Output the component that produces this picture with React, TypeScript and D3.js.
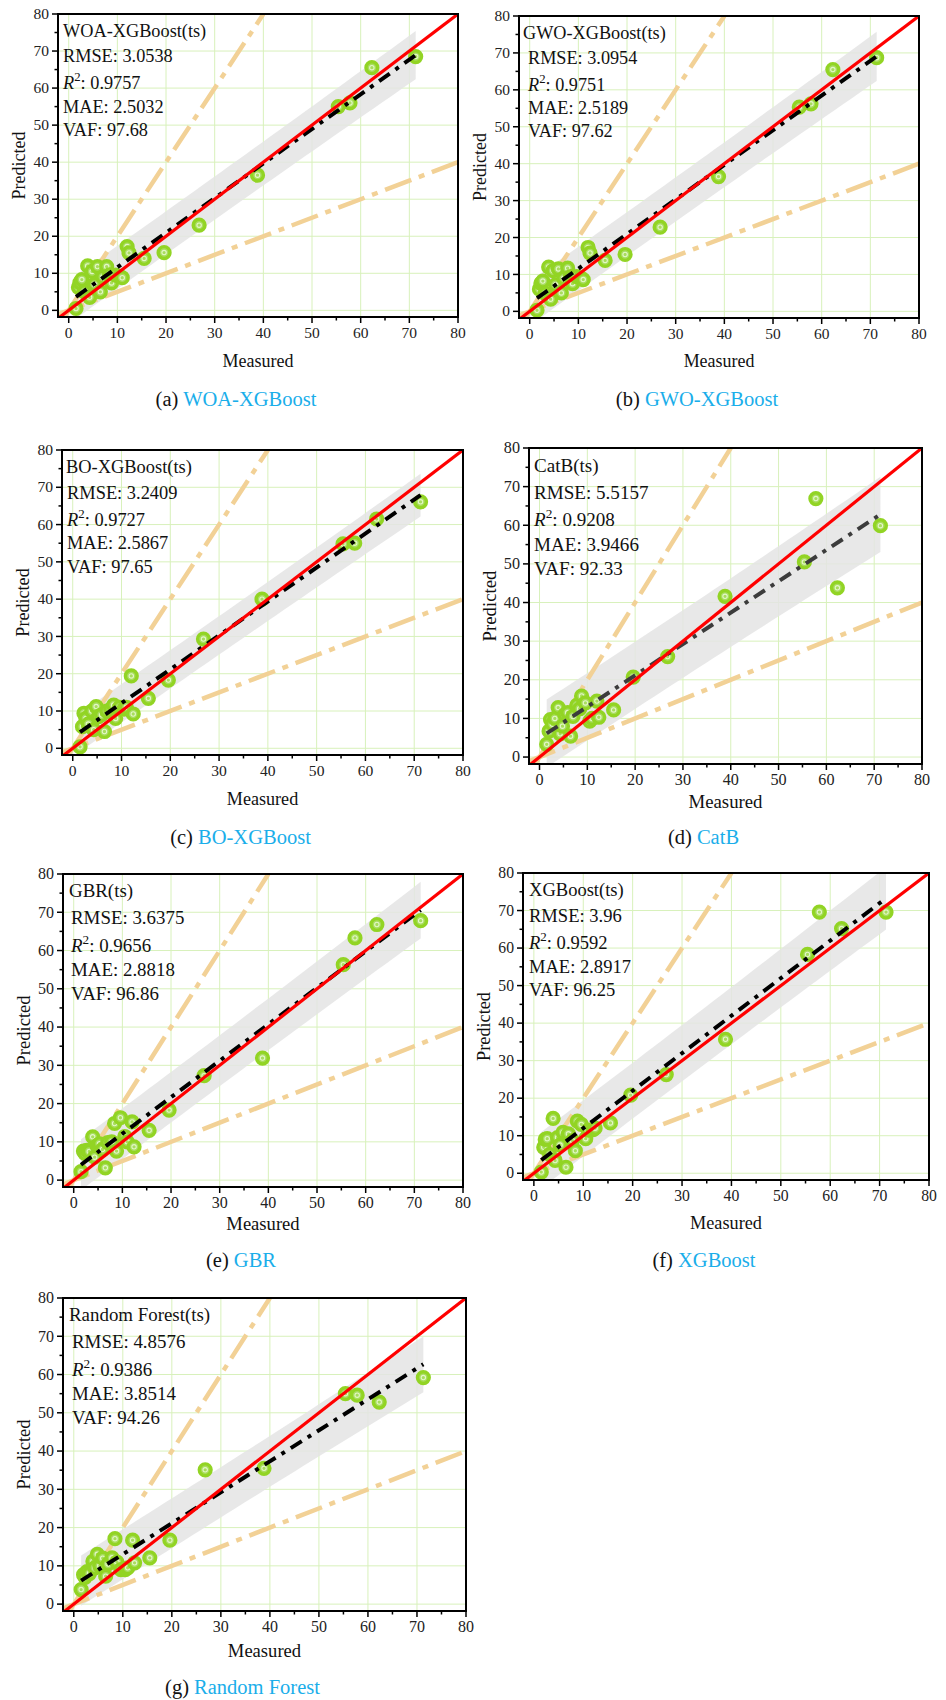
import React from 'react';
import * as d3 from 'd3';

// measured values of the test set (shared by every model)
const measured = [1.5, 2.0, 2.3, 2.7, 3.2, 3.9, 4.3, 4.8, 5.3, 5.9, 6.5, 7.0, 7.8, 8.4, 8.8, 9.6, 10.5, 11.0, 12.0, 12.4, 15.5, 19.6, 26.8, 38.8, 55.4, 57.8, 62.3, 71.3];

// predicted values, one list per model
const woaPred = [0.5, 6.2, 7.5, 8.3, 5.0, 12.0, 3.5, 10.5, 7.0, 11.8, 5.0, 9.0, 11.8, 9.6, 7.4, 9.5, 9.2, 8.8, 17.2, 15.5, 14.0, 15.6, 23.0, 36.5, 55.0, 56.0, 65.5, 68.5];
const gwoPred = [0.3, 6.0, 7.6, 8.2, 4.8, 12.0, 3.3, 11.0, 7.2, 11.5, 5.0, 9.0, 11.7, 9.4, 7.5, 9.4, 9.0, 8.6, 17.3, 15.8, 13.8, 15.4, 22.8, 36.5, 55.3, 56.2, 65.5, 68.7];
const boPred = [0.4, 5.8, 9.4, 8.0, 6.5, 10.0, 5.0, 11.2, 8.5, 9.0, 4.5, 10.0, 10.5, 11.6, 8.0, 11.0, 10.5, 11.0, 19.4, 9.2, 13.4, 18.3, 29.3, 40.0, 54.8, 55.0, 61.5, 66.1];
const catbPred = [3.3, 6.7, 9.7, 8.5, 10.0, 12.8, 6.0, 8.0, 11.0, 11.5, 5.4, 10.5, 13.4, 12.5, 15.8, 14.0, 9.3, 10.0, 14.5, 10.3, 12.2, 20.7, 26.0, 41.6, 50.5, 66.9, 43.8, 59.9];
const gbrPred = [2.2, 7.6, 7.0, 7.8, 7.5, 11.3, 6.0, 9.0, 9.5, 8.0, 3.2, 9.8, 10.0, 14.8, 7.6, 16.3, 11.4, 10.0, 15.2, 8.7, 13.0, 18.3, 27.3, 31.9, 56.3, 63.3, 66.8, 67.8];
const xgbPred = [0.3, 6.9, 9.0, 9.2, 5.0, 14.6, 3.4, 9.5, 7.5, 10.9, 1.6, 10.5, 8.7, 6.0, 13.9, 13.0, 9.2, 11.5, 11.6, 12.0, 13.4, 20.8, 26.3, 35.7, 58.3, 69.6, 65.2, 69.6];
const rfPred = [3.8, 7.7, 7.0, 8.5, 8.0, 11.2, 9.5, 13.0, 10.0, 12.0, 7.3, 10.5, 12.1, 17.1, 11.0, 9.0, 9.0, 9.5, 16.7, 10.8, 12.1, 16.7, 35.1, 35.5, 55.0, 54.6, 52.8, 59.2];

const modelNames = ['WOA-XGBoost', 'GWO-XGBoost', 'BO-XGBoost', 'CatB', 'GBR', 'XGBoost', 'Random Forest'];
const panelTags = ['a', 'b', 'c', 'd', 'e', 'f', 'g'];
const rmseVals = ['3.0538', '3.0954', '3.2409', '5.5157', '3.6375', '3.96', '4.8576'];
const r2Vals = ['0.9757', '0.9751', '0.9727', '0.9208', '0.9656', '0.9592', '0.9386'];
const maeVals = ['2.5032', '2.5189', '2.5867', '3.9466', '2.8818', '2.8917', '3.8514'];
const vafVals = ['97.68', '97.62', '97.65', '92.33', '96.86', '96.25', '94.26'];

const majorTicks = [0, 10, 20, 30, 40, 50, 60, 70, 80];
const minorTicks = [5, 15, 25, 35, 45, 55, 65, 75];

const predictions = [woaPred, gwoPred, boPred, catbPred, gbrPred, xgbPred, rfPred];

// panel frames on the page
const frames = [
  { l: 58, r: 458, t: 14, b: 317, xlab: 50, cap: 406, tdx: 5, bdx: 5 },
  { l: 519, r: 919, t: 16, b: 318, xlab: 49, cap: 406, tdx: 4, bdx: 9 },
  { l: 62, r: 463, t: 450, b: 755, xlab: 50, cap: 844, tdx: 4, bdx: 5 },
  { l: 529, r: 922, t: 448, b: 764, xlab: 44, cap: 844, tdx: 5, bdx: 5 },
  { l: 63, r: 463, t: 874, b: 1187, xlab: 43, cap: 1267, tdx: 6, bdx: 8 },
  { l: 523, r: 929, t: 873, b: 1180, xlab: 49, cap: 1267, tdx: 6, bdx: 6 },
  { l: 63, r: 466, t: 1298, b: 1611, xlab: 46, cap: 1694, tdx: 6, bdx: 9 },
];

const serif = '"Liberation Serif", "Times New Roman", serif';
const bandT = 1.8;

function linFit(xs: number[], ys: number[]) {
  const n = xs.length;
  const mx = d3.mean(xs) as number;
  const my = d3.mean(ys) as number;
  let sxx = 0, sxy = 0;
  xs.forEach((x, i) => { sxx += (x - mx) * (x - mx); sxy += (x - mx) * (ys[i] - my); });
  const b = sxy / sxx;
  const a = my - b * mx;
  let sse = 0;
  xs.forEach((x, i) => { const e = ys[i] - (a + b * x); sse += e * e; });
  const s = Math.sqrt(sse / (n - 2));
  return { a, b, s, mx, sxx, n };
}

function Panel({ idx }: { idx: number }) {
  const f = frames[idx];
  const H = f.b - f.t;
  const k = H / 303;
  const x = d3.scaleLinear().domain([-2.2, 80]).range([f.l, f.r]);
  const y = d3.scaleLinear().domain([-1.8, 80]).range([f.b, f.t]);
  const pred = predictions[idx];
  const fit = linFit(measured, pred);
  const x0 = d3.min(measured) as number;
  const x1 = d3.max(measured) as number;
  const samples = d3.range(0, 41).map(i => x0 + (x1 - x0) * i / 40);
  const band = samples.map(xv => {
    const yh = fit.a + fit.b * xv;
    const w = bandT * fit.s * Math.sqrt(1 + 1 / fit.n + (xv - fit.mx) ** 2 / fit.sxx);
    return { x: xv, lo: yh - w, hi: yh + w };
  });
  const area = d3.area<{ x: number; lo: number; hi: number }>()
    .x(d => x(d.x)).y0(d => y(d.lo)).y1(d => y(d.hi));
  const line = d3.line<[number, number]>().x(d => x(d[0])).y(d => y(d[1]));
  const clipId = 'clip' + idx;
  const tickFs = 15.5 * k;
  const titleFs = 18 * k;
  const statFs = 18.3 * k;
  const statY = [0.075, 0.16, 0.248, 0.326, 0.402].map(v => f.t + v * H);
  const fitColor = idx === 3 ? '#3c3c3c' : '#000';
  const cx = (f.l + f.r) / 2;

  return (
    <g>
      <defs>
        <clipPath id={clipId}>
          <rect x={f.l} y={f.t} width={f.r - f.l} height={f.b - f.t} />
        </clipPath>
      </defs>
      <rect x={f.l} y={f.t} width={f.r - f.l} height={f.b - f.t} fill="#fff" />
      {majorTicks.map(t => (
        <g key={'g' + t}>
          <line x1={x(t)} x2={x(t)} y1={f.t} y2={f.b} stroke="#d8f1bb" strokeWidth={1} />
          <line x1={f.l} x2={f.r} y1={y(t)} y2={y(t)} stroke="#d8f1bb" strokeWidth={1} />
        </g>
      ))}
      <g clipPath={`url(#${clipId})`}>
        <path d={area(band) as string} fill="#e4e4e4" opacity={0.85} />
        <path d={line([[-0.9, -1.8], [40, 80]]) as string} stroke="#f2d196" strokeWidth={4.5} fill="none" strokeDasharray="28,8,6,8" />
        <path d={line([[-2.2, -1.1], [80, 40]]) as string} stroke="#f2d196" strokeWidth={4.5} fill="none" strokeDasharray="28,8,6,8" />
        {measured.map((m, i) => (
          <g key={'p' + i}>
            <circle cx={x(m)} cy={y(pred[i])} r={5.9} fill="#a8dd5e" stroke="#92d424" strokeWidth={3.4} />
            <circle cx={x(m)} cy={y(pred[i])} r={2.2} fill="none" stroke="#e4f7c8" strokeWidth={1.1} />
          </g>
        ))}
        <path d={line([[x0, fit.a + fit.b * x0], [x1, fit.a + fit.b * x1]]) as string} stroke={fitColor} strokeWidth={4} fill="none" strokeDasharray="13,7,4,7" />
        <path d={line([[-2.2, -2.2], [80, 80]]) as string} stroke="#ff0000" strokeWidth={3.2} fill="none" />
      </g>
      <rect x={f.l} y={f.t} width={f.r - f.l} height={f.b - f.t} fill="none" stroke="#000" strokeWidth={2} />
      {majorTicks.map(t => (
        <g key={'t' + t}>
          <line x1={x(t)} x2={x(t)} y1={f.b} y2={f.b + 6} stroke="#000" strokeWidth={1.5} />
          <line x1={f.l} x2={f.l - 6} y1={y(t)} y2={y(t)} stroke="#000" strokeWidth={1.5} />
          <text x={x(t)} y={f.b + 6 + tickFs * 0.95} textAnchor="middle" fontSize={tickFs} fontFamily={serif} fill="#222">{t}</text>
          <text x={f.l - 9} y={y(t) + tickFs * 0.33} textAnchor="end" fontSize={tickFs} fontFamily={serif} fill="#222">{t}</text>
        </g>
      ))}
      {minorTicks.map(t => (
        <g key={'m' + t}>
          <line x1={x(t)} x2={x(t)} y1={f.b} y2={f.b + 3.5} stroke="#000" strokeWidth={1.5} />
          <line x1={f.l} x2={f.l - 3.5} y1={y(t)} y2={y(t)} stroke="#000" strokeWidth={1.5} />
        </g>
      ))}
      <text x={cx} y={f.b + f.xlab} textAnchor="middle" fontSize={titleFs} fontFamily={serif} fill="#111">Measured</text>
      <text transform={`translate(${f.l - 33},${(f.t + f.b) / 2}) rotate(-90)`} textAnchor="middle" fontSize={titleFs} fontFamily={serif} fill="#111">Predicted</text>
      <g fontFamily={serif} fontSize={statFs} fill="#111">
        <text x={f.l + f.tdx} y={statY[0]}>{modelNames[idx]}(ts)</text>
        <text x={f.l + f.bdx} y={statY[1]}>RMSE: {rmseVals[idx]}</text>
        <text x={f.l + f.bdx} y={statY[2]}>
          <tspan fontStyle="italic">R</tspan>
          <tspan dy={-statFs * 0.42} fontSize={statFs * 0.7}>2</tspan>
          <tspan dy={statFs * 0.42}>: {r2Vals[idx]}</tspan>
        </text>
        <text x={f.l + f.bdx} y={statY[3]}>MAE: {maeVals[idx]}</text>
        <text x={f.l + f.bdx} y={statY[4]}>VAF: {vafVals[idx]}</text>
      </g>
      <text x={cx - 22} y={f.cap} textAnchor="middle" fontSize={20.5} fontFamily={serif}>
        <tspan fill="#111">({panelTags[idx]}) </tspan>
        <tspan fill="#1aaeea">{modelNames[idx]}</tspan>
      </text>
    </g>
  );
}

export default function App() {
  return (
    <svg width={946} height={1700} style={{ position: 'absolute', left: 0, top: 0, display: 'block', background: '#fff' }}>
      {modelNames.map((_, i) => <Panel key={i} idx={i} />)}
    </svg>
  );
}
